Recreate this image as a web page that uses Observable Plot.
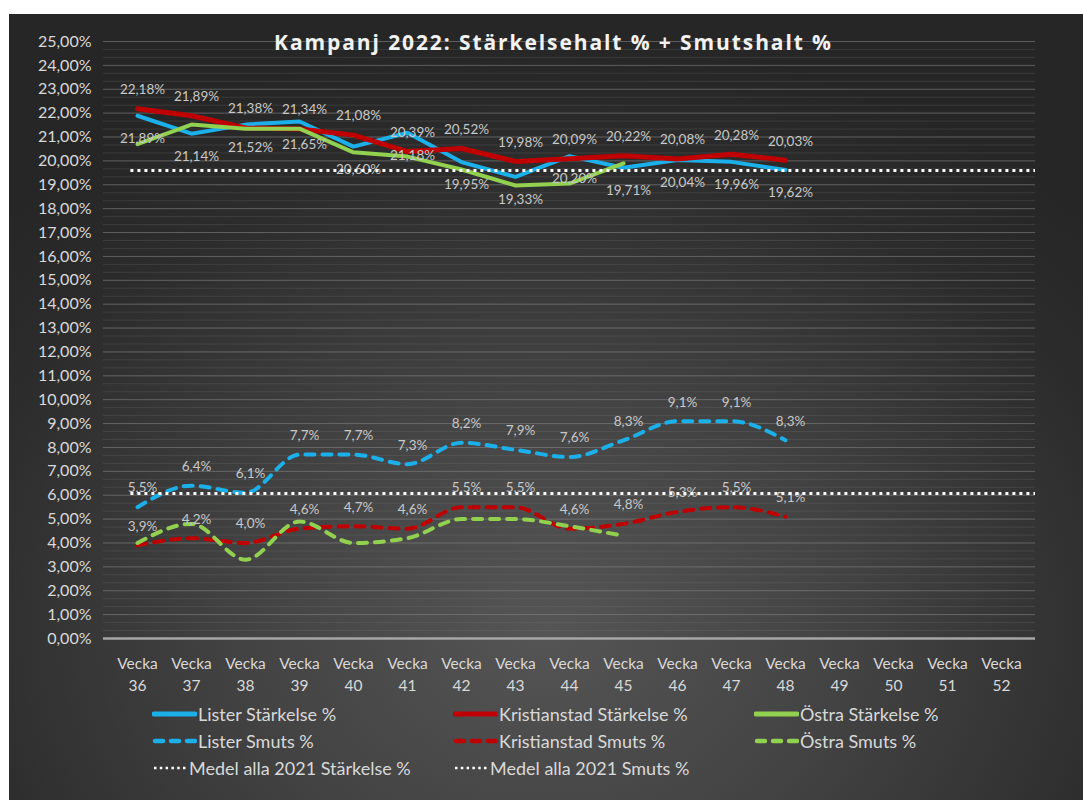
<!DOCTYPE html>
<html>
<head>
<meta charset="utf-8">
<script src="https://cdn.jsdelivr.net/npm/d3@7"></script>
<script src="https://cdn.jsdelivr.net/npm/@observablehq/plot@0.6"></script>
<style>
  html, body { margin: 0; padding: 0; background: #ffffff; }
  #wrap { position: relative; width: 1083px; height: 800px; background: #ffffff; overflow: hidden; }
  #panel { position: absolute; left: 9px; top: 14px; width: 1074px; height: 786px;
    background: radial-gradient(ellipse 70% 75% at 50% 78%, #555555 0%, #434343 40%, #2c2c2c 80%, #262626 100%); }
  #chart { position: absolute; left: 0; top: 0; }
  .leg { position: absolute; display: flex; align-items: center; font-family: Lato, "Open Sans", sans-serif;
    font-size: 18px; color: #d9d9d9; white-space: nowrap; }
  .leg svg { margin-right: 1px; }
</style>
</head>
<body>
<div id="wrap"><div id="panel"><div id="chart"></div></div></div>
<script>
// ---- data ----
const weeks = ["36","37","38","39","40","41","42","43","44","45","46","47","48","49","50","51","52"];
const listerStarkelse      = [21.89, 21.14, 21.52, 21.65, 20.60, 21.18, 19.95, 19.33, 20.20, 19.71, 20.04, 19.96, 19.62];
const kristianstadStarkelse = [22.18, 21.89, 21.38, 21.34, 21.08, 20.39, 20.52, 19.98, 20.09, 20.22, 20.08, 20.28, 20.03];
const ostraStarkelse       = [20.70, 21.52, 21.35, 21.35, 20.36, 20.18, 19.64, 18.97, 19.05, 19.90];
const listerSmuts          = [5.5, 6.4, 6.1, 7.7, 7.7, 7.3, 8.2, 7.9, 7.6, 8.3, 9.1, 9.1, 8.3];
const kristianstadSmuts    = [3.9, 4.2, 4.0, 4.6, 4.7, 4.6, 5.5, 5.5, 4.6, 4.8, 5.3, 5.5, 5.1];
const ostraSmuts           = [4.0, 4.8, 3.3, 4.9, 4.0, 4.2, 5.0, 5.0, 4.7, 4.3];
const medelStarkelse2021 = 19.60;
const medelSmuts2021 = 6.07;
const title = "Kampanj 2022: Stärkelsehalt % + Smutshalt %";
const yTicks = d3.range(0, 26);

const colors = { lister: "#1cb0ea", krist: "#c00000", ostra: "#92d050", medel: "#ffffff" };
const toRows = vals => vals.map((v, i) => ({ week: weeks[i], value: v }));
const fmt2 = v => v.toFixed(2).replace(".", ",") + "%";
const fmt1 = v => v.toFixed(1).replace(".", ",") + "%";

const W = 1074, ML = 94, MR = 48;
const halfStep = (W - ML - MR) / weeks.length / 2;

const labelStyle = { fill: "#c8c8c8", fontSize: 13.5, fontFamily: "Lato, 'Open Sans', sans-serif", dx: 5 };
const dashed = { strokeDasharray: "9,8", strokeLinecap: "round", strokeWidth: 4, curve: "monotone-x" };
const dotted = { stroke: "#ffffff", strokeWidth: 3, strokeDasharray: "3,4", insetLeft: halfStep };

const chart = Plot.plot({
  width: W,
  height: 690,
  marginLeft: ML,
  marginRight: MR,
  marginTop: 27,
  marginBottom: 66,
  style: { background: "transparent", fontFamily: "Lato, 'Open Sans', sans-serif", color: "#d9d9d9", overflow: "visible" },
  x: { type: "point", domain: weeks, padding: 0.5, label: null },
  y: { domain: [0, 25], label: null },
  marks: [
    Plot.gridY(d3.range(0, 76).map(i => i / 3), { stroke: "#777777", strokeOpacity: 0.25, strokeWidth: 1 }),
    Plot.gridY(yTicks, { stroke: "#8a8a8a", strokeOpacity: 0.45, strokeWidth: 1 }),
    Plot.axisY(yTicks, { tickFormat: fmt2, tickSize: 0, tickPadding: 12, fontSize: 16, fill: "#d9d9d9", label: null }),
    Plot.axisX(weeks, { tickFormat: d => `Vecka\n${d}`, tickSize: 0, tickPadding: 15, fontSize: 15.5, lineHeight: 1.42, fill: "#d9d9d9", label: null }),
    Plot.ruleY([0], { stroke: "#a6a6a6", strokeWidth: 2.5 }),
    // Stärkelse lines
    Plot.line(toRows(listerStarkelse), { x: "week", y: "value", stroke: colors.lister, strokeWidth: 4 }),
    Plot.line(toRows(kristianstadStarkelse), { x: "week", y: "value", stroke: colors.krist, strokeWidth: 5 }),
    Plot.line(toRows(ostraStarkelse), { x: "week", y: "value", stroke: colors.ostra, strokeWidth: 4 }),
    // Smuts lines
    Plot.line(toRows(listerSmuts), { x: "week", y: "value", stroke: colors.lister, ...dashed }),
    Plot.line(toRows(kristianstadSmuts), { x: "week", y: "value", stroke: colors.krist, ...dashed }),
    Plot.line(toRows(ostraSmuts), { x: "week", y: "value", stroke: colors.ostra, ...dashed }),
    // labels
    Plot.text(toRows(kristianstadStarkelse), { x: "week", y: "value", text: d => fmt2(d.value), dy: -19, ...labelStyle }),
    Plot.text(toRows(listerStarkelse), { x: "week", y: "value", text: d => fmt2(d.value), dy: 23, ...labelStyle }),
    Plot.text(toRows(listerSmuts), { x: "week", y: "value", text: d => fmt1(d.value), dy: -19, ...labelStyle }),
    Plot.text(toRows(kristianstadSmuts), { x: "week", y: "value", text: d => fmt1(d.value), dy: -19, ...labelStyle }),
    // averages (from week 36 to the right edge of the plot)
    Plot.ruleY([medelStarkelse2021], { y: d => d, ...dotted }),
    Plot.ruleY([medelSmuts2021], { y: d => d, ...dotted }),
    // title
    Plot.text([title], { text: d => d, frameAnchor: "top", lineAnchor: "middle", dx: -16, dy: 2,
      fontSize: 21, fontWeight: "bold", fill: "#f2f2f2", fontFamily: "'Open Sans', Lato, sans-serif" })
  ]
});
document.getElementById("chart").appendChild(chart);
d3.select(chart).selectAll("text").filter(function () { return this.textContent === title; })
  .style("letter-spacing", "1.9px");

// ---- legend (HTML) ----
const legendItems = [
  { label: "Lister Stärkelse %", color: colors.lister, kind: "solid", x: 152, y: 714 },
  { label: "Kristianstad Stärkelse %", color: colors.krist, kind: "solid", x: 453, y: 714 },
  { label: "Östra Stärkelse %", color: colors.ostra, kind: "solid", x: 754, y: 714 },
  { label: "Lister Smuts %", color: colors.lister, kind: "dash", x: 152, y: 741 },
  { label: "Kristianstad Smuts %", color: colors.krist, kind: "dash", x: 453, y: 741 },
  { label: "Östra Smuts %", color: colors.ostra, kind: "dash", x: 754, y: 741 },
  { label: "Medel alla 2021 Stärkelse %", color: colors.medel, kind: "dot", x: 152, y: 768 },
  { label: "Medel alla 2021 Smuts %", color: colors.medel, kind: "dot", x: 453, y: 768 }
];
const panel = document.getElementById("panel");
for (const it of legendItems) {
  const div = document.createElement("div");
  div.className = "leg";
  div.style.left = (it.x - 9) + "px";
  div.style.top = (it.y - 14 - 12) + "px";
  div.style.height = "24px";
  let sample;
  if (it.kind === "solid") sample = `<line x1="2" y1="6" x2="43" y2="6" stroke="${it.color}" stroke-width="5" stroke-linecap="round"/>`;
  else if (it.kind === "dash") sample = `<line x1="3" y1="6" x2="43" y2="6" stroke="${it.color}" stroke-width="4.5" stroke-linecap="round" stroke-dasharray="8,8"/>`;
  else sample = `<line x1="2" y1="6" x2="34" y2="6" stroke="${it.color}" stroke-width="2.5" stroke-dasharray="2.5,3.3"/>`;
  const w = it.kind === "dot" ? 36 : 45;
  div.innerHTML = `<svg width="${w}" height="12">${sample}</svg><span>${it.label}</span>`;
  panel.appendChild(div);
}
</script>
</body>
</html>
